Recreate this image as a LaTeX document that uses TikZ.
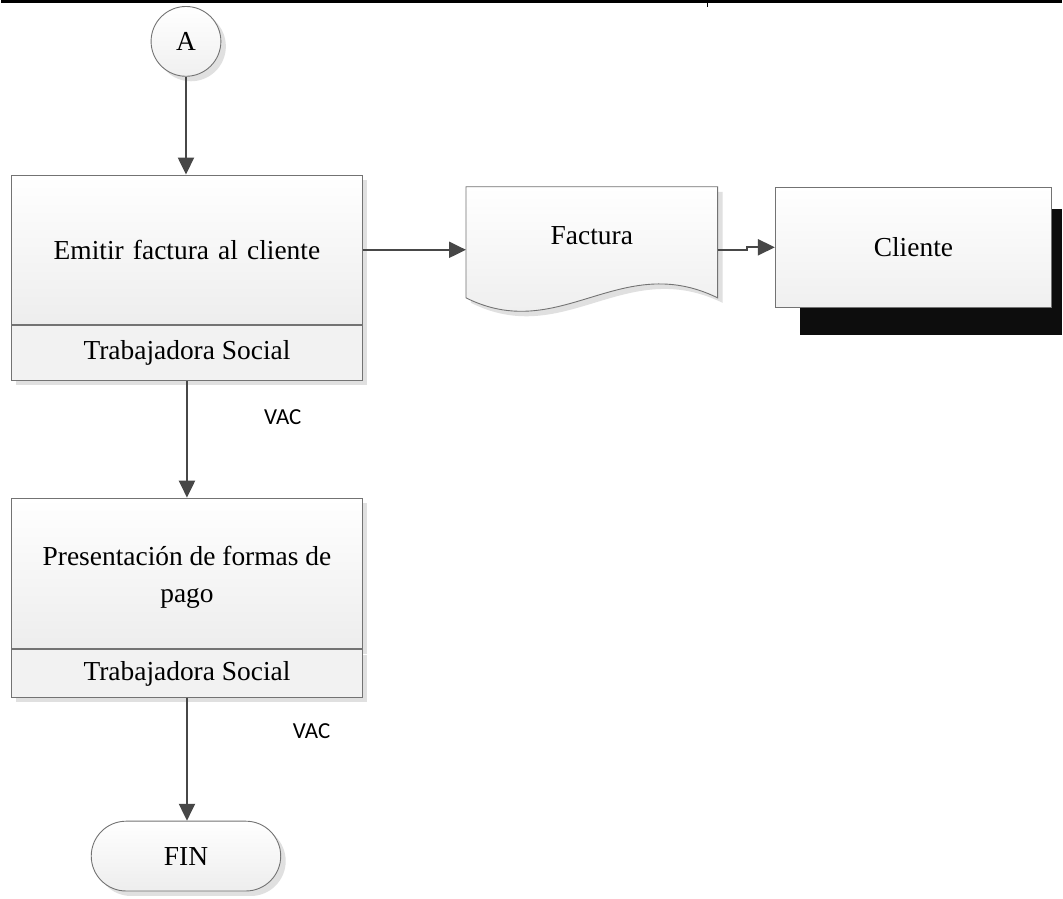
\documentclass[tikz,border=0pt]{standalone}
\usepackage{fontspec}
\setmainfont{Liberation Serif}
\newfontfamily\vacfont{Carlito}
\usetikzlibrary{arrows.meta,shadows,calc}

\begin{document}
\begin{tikzpicture}[x=1pt,y=-1pt,
  flow/.style={draw=black!72, line width=2.2pt, -{Triangle[length=17pt,width=16pt]}},
  outline/.style={draw=black!55, line width=0.9pt},
  bigtext/.style={font=\fontsize{27.5}{37}\selectfont},
  softshadow/.style={drop shadow={shadow xshift=5pt, shadow yshift=-5pt, fill=black!12, opacity=1}},
  procbox/.style={outline, softshadow, top color=white, bottom color=black!7,
    minimum width=352pt, minimum height=150pt, inner sep=0pt, align=center,
    text width=330pt, bigtext},
  rolebox/.style={outline, softshadow, fill=black!5, minimum width=352pt,
    inner sep=0pt, align=center, bigtext},
  connector/.style={circle, outline, softshadow, top color=white, bottom color=black!6,
    minimum size=70pt, inner sep=0pt, bigtext},
  terminal/.style={outline, softshadow, rounded corners=35pt, top color=white,
    bottom color=black!7, minimum width=190pt, minimum height=70pt, inner sep=0pt, bigtext},
  vaclabel/.style={font=\vacfont\fontsize{23}{26}\selectfont}
]
% page background and frame
\fill[white] (0,0) rectangle (1063,901);
\draw[line width=3pt] (0,1.5) -- (1063,1.5);
\draw[line width=1pt] (708,0) -- (708,7);

% off-page connector
\node[connector] (a) at (185,41) {A};

% first process
\node[procbox] (e1) at (186,250) {Emitir factura al cliente};
\node[rolebox, minimum height=55pt, anchor=north] (e1r) at (e1.south) {Trabajadora Social};

% document: Factura
\node[minimum width=252pt, minimum height=111pt, inner sep=0pt] (fact) at (592,242.5) {};
\path[outline, drop shadow={shadow xshift=5pt, shadow yshift=-5pt, fill=black!12, opacity=1},
  top color=white, bottom color=black!8]
  (fact.north west) -- (fact.north east) -- (fact.south east)
  .. controls ($(fact.south east)+(-98,-48)$) and ($(fact.south east)+(-158,47)$) .. (fact.south west)
  -- cycle;
\node[bigtext] at ($(fact.center)+(0,-7)$) {Factura};

% external entity: Cliente
\fill[black!95] (801,209) rectangle (1063,335);
\node[outline, top color=white, bottom color=black!6, minimum width=277pt,
  minimum height=121pt, inner sep=0pt, bigtext] (cli) at (914.5,247.5) {Cliente};

% second process
\node[procbox, minimum height=151pt] (e2) at (186,574.5) {};
\node[bigtext, align=center] at ($(e2.center)+(0,4)$) {Presentación de formas de\\pago};
\node[rolebox, minimum height=48pt, anchor=north] (e2r) at (e2.south) {Trabajadora Social};

% end
\node[terminal] (fin) at (185,858) {FIN};

% labels
\node[vaclabel] (v1) at (282,418) {VAC};
\node[vaclabel] (v2) at (311,733) {VAC};

% connectors
\draw[flow] (a.south) -- (a.south |- e1.north);
\draw[flow] (e1.east) -- (e1.east -| fact.west);
\draw[flow] (e1.east -| fact.east) -- ++(29,0) -- ++(0,-2) |- (cli.west);
\draw[flow] (e1r.south) -- (e1r.south |- e2.north);
\draw[flow] (e2r.south) -- (e2r.south |- fin.north);
\end{tikzpicture}
\end{document}
